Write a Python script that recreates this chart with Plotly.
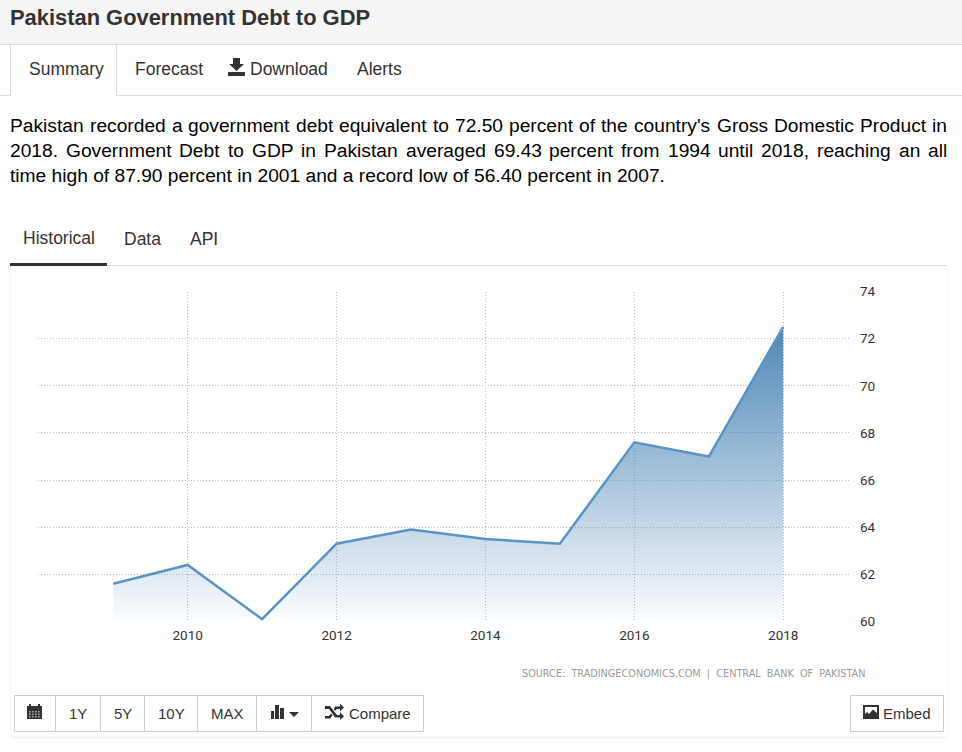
import pandas as pd
import plotly.express as px


years = [2009, 2010, 2011, 2012, 2013, 2014, 2015, 2016, 2017, 2018]
debt = [61.6, 62.4, 60.1, 63.3, 63.9, 63.5, 63.3, 67.6, 67.0, 72.5]
year_ticks = [2010, 2012, 2014, 2016, 2018]
debt_ticks = [60, 62, 64, 66, 68, 70, 72, 74]

title_text = "Pakistan Government Debt to GDP"
source_text = "SOURCE:  TRADINGECONOMICS.COM  |  CENTRAL  BANK  OF  PAKISTAN"
line_1 = ["Pakistan", "recorded", "a", "government", "debt", "equivalent", "to", "72.50", "percent",
          "of", "the", "country's", "Gross", "Domestic", "Product", "in"]
line_2 = ["2018.", "Government", "Debt", "to", "GDP", "in", "Pakistan", "averaged", "69.43", "percent",
          "from", "1994", "until", "2018,", "reaching", "an", "all"]
line_3 = "time high of 87.90 percent in 2001 and a record low of 56.40 percent in 2007."

W = 962
H = 752
FONT = "Liberation Sans"


# pixels of the page to paper coordinates
def px_x(x):
    return x / W


def px_y(y):
    return 1 - y / H


def add_text(fig, x, y, text, size=17.5, color="#333333", anchor="left", family=FONT):
    fig.add_annotation(x=px_x(x), y=px_y(y), xref="paper", yref="paper", text=text, showarrow=False,
                       xanchor=anchor, yanchor="middle", borderpad=0,
                       xshift=-1 if anchor == "left" else 0,  # annotations keep a pixel of padding
                       font=dict(family=family, size=size, color=color))


def add_box(fig, x0, y0, x1, y1, fill="rgba(0,0,0,0)", line="rgba(0,0,0,0)", width=1):
    fig.add_shape(type="rect", xref="paper", yref="paper", x0=px_x(x0), y0=px_y(y0), x1=px_x(x1), y1=px_y(y1),
                  fillcolor=fill, line=dict(color=line, width=width), layer="below")


def add_rule(fig, x0, y0, x1, y1, color="#dddddd", width=1):
    fig.add_shape(type="line", xref="paper", yref="paper", x0=px_x(x0), y0=px_y(y0), x1=px_x(x1), y1=px_y(y1),
                  line=dict(color=color, width=width), layer="below")


def add_icon(fig, points, color="#333333"):
    path = "M " + " L ".join(f"{px_x(x):.5f},{px_y(y):.5f}" for x, y in points) + " Z"
    fig.add_shape(type="path", xref="paper", yref="paper", path=path, fillcolor=color, line=dict(width=0))


# Generates the page around the chart: header, tabs, text and buttons
def add_page(fig):
    # header and the tabs
    add_box(fig, 0, 0, 962, 44, fill="#f5f5f5")
    add_rule(fig, 0, 44.5, 962, 44.5)
    add_rule(fig, 0, 95.5, 10, 95.5)
    add_rule(fig, 116, 95.5, 962, 95.5)
    add_rule(fig, 10.5, 45, 10.5, 96)
    add_rule(fig, 116.5, 45, 116.5, 96)
    add_text(fig, 10, 18, "<b>" + title_text + "</b>", size=21.9)
    add_text(fig, 29, 69, "Summary")
    add_text(fig, 135, 69, "Forecast")
    add_text(fig, 250, 69, "Download")
    add_text(fig, 357, 69, "Alerts")

    # download icon
    add_icon(fig, [(233, 58), (240, 58), (240, 64), (244, 64), (236.5, 71), (229, 64), (233, 64)])
    add_icon(fig, [(228, 72), (245, 72), (245, 76), (228, 76)])

    # the paragraph, the first two lines are justified
    starts_1 = [10, 89.7, 171.6, 188.4, 295.9, 339.4, 433, 455.1, 509.2, 579.3, 601.4, 634.2, 716.5, 773.8,
                859.9, 932.2]
    starts_2 = [10, 65.9, 179.4, 227.9, 251.8, 301.3, 324.1, 405.6, 493.5, 549.4, 621.3, 667.6, 718.2, 761.3,
                817.2, 898.7, 928]
    for word, start in zip(line_1, starts_1):
        add_text(fig, start, 125.5, word, size=19.2, color="#000000")
    for word, start in zip(line_2, starts_2):
        add_text(fig, start, 150, word, size=19.2, color="#000000")
    add_text(fig, 10, 175, line_3, size=19.2, color="#000000")

    # tabs of the chart
    add_text(fig, 23, 238, "Historical")
    add_text(fig, 124, 239, "Data")
    add_text(fig, 190, 239, "API")
    add_rule(fig, 10, 265.5, 947, 265.5)
    add_rule(fig, 10, 264.5, 107, 264.5, color="#333333", width=3)
    add_rule(fig, 10.5, 266, 10.5, 737, color="#f7f7f7")
    add_rule(fig, 947.5, 266, 947.5, 737, color="#f7f7f7")
    add_rule(fig, 10, 737.5, 948, 737.5, color="#f3f3f3", width=2)

    # the buttons
    edges = [14.5, 55.5, 100.5, 144.5, 197.5, 256.5, 311.5, 423.5]
    add_box(fig, edges[0], 695.5, edges[-1], 731.5, line="#cccccc")
    for edge in edges[1:-1]:
        add_rule(fig, edge, 695.5, edge, 731.5, color="#cccccc")
    add_text(fig, 78, 713, "1Y", size=15, anchor="center")
    add_text(fig, 122.5, 713, "5Y", size=15, anchor="center")
    add_text(fig, 171, 713, "10Y", size=15, anchor="center")
    add_text(fig, 227, 713, "MAX", size=15, anchor="center")
    add_text(fig, 349, 713, "Compare", size=15)
    add_box(fig, 850.5, 695.5, 943.5, 731.5, line="#cccccc")
    add_text(fig, 883, 713, "Embed", size=15)

    # calendar icon
    add_icon(fig, [(27, 706), (42, 706), (42, 719), (27, 719)])
    add_icon(fig, [(29, 704), (31, 704), (31, 707), (29, 707)])
    add_icon(fig, [(38, 704), (40, 704), (40, 707), (38, 707)])
    for x in [29, 32, 35, 38]:
        for y in [711, 713.5, 716]:
            add_icon(fig, [(x, y), (x + 1.6, y), (x + 1.6, y + 1.4), (x, y + 1.4)], color="#aaaaaa")

    # bars icon with the caret
    add_icon(fig, [(271, 711), (274, 711), (274, 719), (271, 719)])
    add_icon(fig, [(275, 705), (279, 705), (279, 719), (275, 719)])
    add_icon(fig, [(280, 708), (284, 708), (284, 719), (280, 719)])
    add_icon(fig, [(289, 712), (299, 712), (294, 717)])

    # shuffle icon
    add_icon(fig, [(325, 706), (330, 706), (337, 715), (340, 715), (340, 712), (344, 716.5), (340, 720),
                   (340, 717.5), (335, 717.5), (329, 709), (325, 709)])
    add_icon(fig, [(325, 716), (329, 716), (331, 713.5), (332.5, 715.5), (330, 718.5), (325, 718.5)])
    add_icon(fig, [(334, 709), (335, 706.5), (340, 706.5), (340, 703.5), (344, 707.5), (340, 711.5),
                   (340, 709), (337, 709), (335, 711)])

    # embed icon
    add_icon(fig, [(863, 705), (879, 705), (879, 719), (863, 719)])
    add_icon(fig, [(865, 707), (877, 707), (877, 713), (873, 709.5), (869, 714), (867, 712), (865, 714)], color="#ffffff")


# Generates the area chart of the debt and the page around it
def generate_linechart_debt():
    df = pd.DataFrame({"jaar": years, "debt": debt})

    # make the fig
    fig = px.line(
        df, x="jaar", y="debt"
    )
    fig.update_traces(
        line=dict(color="#5b93c3", width=2.5),
        fill="tozeroy",
        fillgradient=dict(type="vertical", start=60, stop=72.5,
                          colorscale=[[0, "rgba(70,130,180,0.02)"], [1, "rgba(70,130,180,0.95)"]]),
    )
    fig.update_layout(
        xaxis_title=None,
        yaxis_title=None,
        xaxis_domain=[px_x(38), px_x(851)],
        yaxis_domain=[px_y(621.5), px_y(291.5)],
        xaxis_range=[2007.99, 2018.91],
        yaxis_range=[60, 74],
        plot_bgcolor='rgba(0,0,0,0)',
        paper_bgcolor='white',
        margin=dict(l=0, r=0, t=0, b=0, autoexpand=False),
        width=W,
        height=H,
        showlegend=False,
        hovermode=False,
    )

    fig.update_xaxes(showline=False, zeroline=False, gridwidth=1, gridcolor='#bbbbbb', griddash='1px,2px',
                     tickmode='array', tickvals=year_ticks, ticks='', ticklabelstandoff=4,
                     tickfont=dict(family="Roboto", size=13.5, color="#333333"))
    fig.update_yaxes(showline=False, zeroline=False, gridwidth=1, gridcolor='#bbbbbb', griddash='1px,2px',
                     tickmode='array', tickvals=debt_ticks, ticks='', side='right', ticklabelstandoff=8,
                     tickfont=dict(family="Roboto", size=13.5, color="#333333"))

    add_page(fig)
    add_text(fig, 522, 673.5, source_text, size=9.7, color="#999999", family="DejaVu Sans")
    return fig


fig = generate_linechart_debt()
fig.write_html("out.html", config=dict(displayModeBar=False),
               post_script="document.body.style.margin='0';")
